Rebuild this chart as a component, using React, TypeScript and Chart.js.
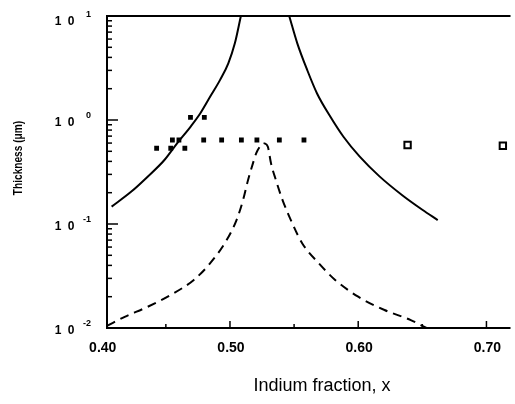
import React, { useEffect, useRef } from "react";
import { Chart, registerables } from "chart.js";

Chart.register(...registerables);

// Critical-thickness curves (solid) and the metastable limit (dashed); thickness in µm vs indium fraction x
const solidLeftX = [0.4077, 0.4231, 0.4358, 0.4487, 0.4589, 0.4692, 0.4769, 0.4846, 0.4923, 0.4987, 0.5038, 0.5085];
const solidLeftY = [0.147, 0.205, 0.285, 0.41, 0.60, 0.86, 1.16, 1.68, 2.43, 3.51, 5.46, 10];

const solidRightX = [0.5462, 0.5525, 0.5602, 0.5679, 0.5782, 0.5885, 0.6012, 0.6166, 0.6346, 0.6500, 0.6620];
const solidRightY = [10, 5.46, 3.03, 1.80, 1.08, 0.69, 0.444, 0.287, 0.188, 0.137, 0.109];

const dashedLeftX = [0.4041, 0.4179, 0.4358, 0.4538, 0.4718, 0.4846, 0.4974, 0.5051, 0.5102, 0.5141, 0.5179, 0.5205, 0.5243, 0.5265];
const dashedLeftY = [0.0105, 0.0128, 0.016, 0.0208, 0.029, 0.042, 0.070, 0.109, 0.170, 0.265, 0.383, 0.48, 0.575, 0.60];

const dashedRightX = [0.5265, 0.5295, 0.5320, 0.5358, 0.5410, 0.5487, 0.5564, 0.5692, 0.5820, 0.6000, 0.6205, 0.6410, 0.6533];
const dashedRightY = [0.60, 0.554, 0.383, 0.265, 0.170, 0.101, 0.065, 0.042, 0.029, 0.020, 0.0149, 0.0119, 0.0100];

// Measured layers: filled squares and open squares
const filledX = [0.4692, 0.4800, 0.4551, 0.4602, 0.4795, 0.4935, 0.5089, 0.5210, 0.5385, 0.5577, 0.4428, 0.4538, 0.4648];
const filledY = [1.06, 1.06, 0.642, 0.642, 0.642, 0.642, 0.642, 0.642, 0.642, 0.642, 0.535, 0.535, 0.535];

const openX = [0.6385, 0.7128];
const openY = [0.575, 0.566];

const xMajorTicks = [0.40, 0.50, 0.60, 0.70];
const xTickLabels = ["0.40", "0.50", "0.60", "0.70"];
const xMinorTicks = [0.45, 0.55, 0.65];
const yDecades = [0.01, 0.1, 1, 10];
const yExponents = ["-2", "-1", "0", "1"];

const xTitle = "Indium fraction, x";
const yTitle = "Thickness (\u03bcm)";

const pts = (xs: number[], ys: number[]) => xs.map((x, i) => ({ x, y: ys[i] }));

const FONT = '"Liberation Sans", Arial, sans-serif';

const axesPlugin = {
  id: "paperAxes",
  afterDatasetsDraw(chart: any) {
    const { ctx, chartArea } = chart;
    const xs = chart.scales.x;
    const ys = chart.scales.y;
    const { left, right, top, bottom } = chartArea;
    ctx.save();
    ctx.strokeStyle = "#000";
    ctx.fillStyle = "#000";
    ctx.lineWidth = 2;
    ctx.lineCap = "butt";
    // frame: left, top, bottom
    ctx.beginPath();
    ctx.moveTo(left, top);
    ctx.lineTo(right + 2, top);
    ctx.moveTo(left, top - 1);
    ctx.lineTo(left, bottom + 1);
    ctx.moveTo(left - 1, bottom);
    ctx.lineTo(right + 2, bottom);
    ctx.stroke();

    // y ticks (inside)
    ctx.lineWidth = 1.5;
    yDecades.forEach((d) => {
      const py = ys.getPixelForValue(d);
      ctx.beginPath();
      ctx.moveTo(left, py);
      ctx.lineTo(left + 11, py);
      ctx.stroke();
      if (d < 10) {
        for (let m = 2; m <= 9; m++) {
          const my = ys.getPixelForValue(d * m);
          ctx.beginPath();
          ctx.moveTo(left, my);
          ctx.lineTo(left + 5, my);
          ctx.stroke();
        }
      }
    });
    // x ticks (inside)
    xMajorTicks.forEach((v) => {
      const px = xs.getPixelForValue(v);
      if (px < left) return;
      ctx.beginPath();
      ctx.moveTo(px, bottom);
      ctx.lineTo(px, bottom - 7);
      ctx.stroke();
    });
    xMinorTicks.forEach((v) => {
      const px = xs.getPixelForValue(v);
      ctx.beginPath();
      ctx.moveTo(px, bottom);
      ctx.lineTo(px, bottom - 4);
      ctx.stroke();
    });

    // x tick labels
    ctx.font = `bold 14px ${FONT}`;
    ctx.textAlign = "center";
    ctx.textBaseline = "middle";
    xMajorTicks.forEach((v, i) => {
      const px = xs.getPixelForValue(v);
      ctx.fillText(xTickLabels[i], px + 1, bottom + 20);
    });

    // y tick labels: "1 0" with superscript exponent
    yDecades.forEach((d, i) => {
      const py = ys.getPixelForValue(d) + (d === 10 ? 6 : 3);
      ctx.font = `bold 12px ${FONT}`;
      ctx.textAlign = "center";
      ctx.textBaseline = "middle";
      ctx.fillText("1", 58, py);
      ctx.fillText("0", 71, py);
      ctx.font = `bold 9px ${FONT}`;
      ctx.textAlign = "right";
      ctx.fillText(yExponents[i], 91, py - 7);
    });

    // axis titles
    ctx.font = `18px ${FONT}`;
    ctx.textAlign = "center";
    ctx.textBaseline = "middle";
    ctx.fillText(xTitle, 322, 386);

    ctx.save();
    ctx.translate(18, 158);
    ctx.rotate(-Math.PI / 2);
    ctx.scale(0.78, 1);
    ctx.font = `bold 13px ${FONT}`;
    ctx.fillText(yTitle, 0, 0);
    ctx.restore();

    ctx.restore();
  },
};

const curve = (label: string, xs: number[], ys: number[], dash: number[] = []) => ({
  label,
  data: pts(xs, ys),
  borderColor: "#000",
  borderWidth: 2,
  borderDash: dash,
  pointRadius: 0,
  cubicInterpolationMode: "monotone" as const,
  fill: false,
});

export default function App() {
  const ref = useRef<HTMLCanvasElement | null>(null);

  useEffect(() => {
    if (!ref.current) return;
    const chart = new Chart(ref.current, {
      type: "line",
      data: {
        datasets: [
          curve("solid-left", solidLeftX, solidLeftY),
          curve("solid-right", solidRightX, solidRightY),
          curve("dashed-left", dashedLeftX, dashedLeftY, [9, 6]),
          curve("dashed-right", dashedRightX, dashedRightY, [9, 6]),
          {
            label: "filled",
            data: pts(filledX, filledY),
            showLine: false,
            pointStyle: "rect",
            pointRadius: 3.4,
            backgroundColor: "#000",
            borderColor: "#000",
            borderWidth: 0,
          },
          {
            label: "open",
            data: pts(openX, openY),
            showLine: false,
            pointStyle: "rect",
            pointRadius: 4.5,
            backgroundColor: "#fff",
            borderColor: "#000",
            borderWidth: 2,
          },
        ],
      },
      options: {
        animation: false,
        responsive: false,
        maintainAspectRatio: false,
        layout: { padding: { left: 107, top: 16, right: 1, bottom: 76 } },
        plugins: { legend: { display: false }, tooltip: { enabled: false } },
        scales: {
          x: { type: "linear", min: 0.4041, max: 0.7172, display: false },
          y: { type: "logarithmic", min: 0.01, max: 10, display: false },
        },
      },
      plugins: [axesPlugin],
    });
    return () => chart.destroy();
  }, []);

  return (
    <div style={{ position: "fixed", left: 0, top: 0, width: 515, height: 404, background: "#fff" }}>
      <canvas ref={ref} width={515} height={404} style={{ width: 515, height: 404 }} />
    </div>
  );
}
